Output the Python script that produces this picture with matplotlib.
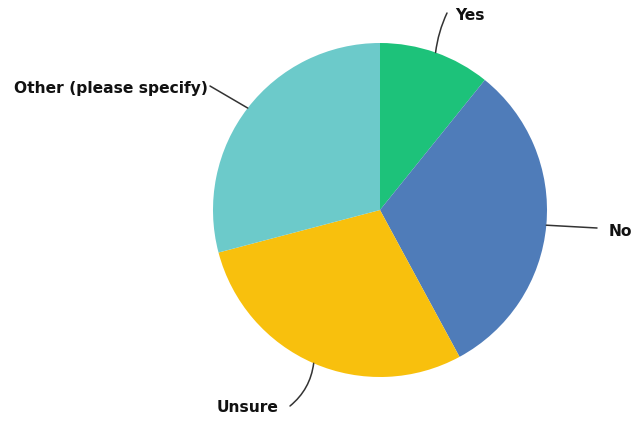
import numpy as np
import matplotlib
matplotlib.use("Agg")
import matplotlib.pyplot as plt

# Survey answer shares (percent)
categories = ["Yes", "No", "Unsure", "Other (please specify)"]
shares = [10.8, 31.3, 28.8, 29.1]
colors = ["#1dc27a", "#4f7cb9", "#f8c00d", "#6ccaca"]

W, H = 639, 422
fig = plt.figure(figsize=(W / 100, H / 100), dpi=100)
ax = fig.add_axes([0, 0, 1, 1])

cx, cy, r = 380, H - 210, 167
wedges, _ = ax.pie(shares, colors=colors, startangle=90, counterclock=False,
                   center=(cx, cy), radius=r, frame=True,
                   wedgeprops=dict(linewidth=0))
ax.set_xlim(0, W)
ax.set_ylim(0, H)
ax.set_aspect("equal")
ax.axis("off")

# label anchor (text position, alignment, leader end, curvature)
label_layout = {
    "Yes": ((455, H - 16), "left", (447, H - 13), 0.08),
    "No": ((609, H - 232), "left", (597, H - 228), 0.0),
    "Unsure": ((278, H - 408), "right", (290, H - 406), 0.2),
    "Other (please specify)": ((208, H - 88), "right", (210, H - 86), 0.0),
}

for w, name in zip(wedges, categories):
    mid = np.deg2rad((w.theta1 + w.theta2) / 2)
    ex, ey = cx + r * np.cos(mid), cy + r * np.sin(mid)
    (tx, ty), ha, (lx, ly), rad = label_layout[name]
    ax.annotate("", xy=(ex, ey), xytext=(lx, ly),
                arrowprops=dict(arrowstyle="-", color="#333333", lw=1.1,
                                shrinkA=0, shrinkB=0,
                                connectionstyle=f"arc3,rad={rad}"))
    ax.text(tx, ty, name, ha=ha, va="center", fontsize=11.2,
            fontweight="bold", family="DejaVu Sans", color="#111111")

fig.savefig("out.png", dpi=100)
